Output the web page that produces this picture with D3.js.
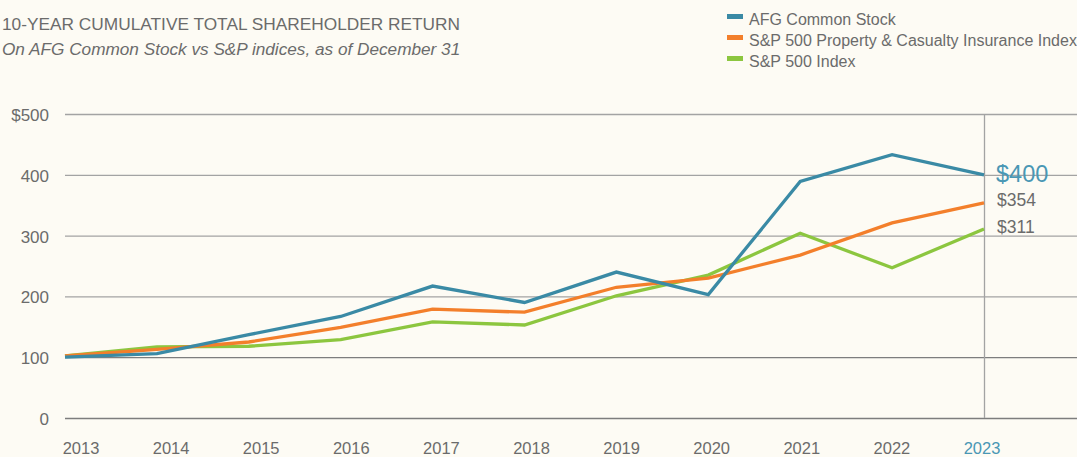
<!DOCTYPE html>
<html><head><meta charset="utf-8">
<script src="https://cdn.jsdelivr.net/npm/d3@7"></script>
<style>
body{margin:0;background:#fdfbf4;}
svg{display:block;font-family:"Liberation Sans",Arial,sans-serif;}
</style></head>
<body><svg id="c" width="1077" height="457"></svg>
<script>
const years = [2013,2014,2015,2016,2017,2018,2019,2020,2021,2022,2023];
const afg   = [100,106,137,167,217,190,240,203,389,433,400];
const pc    = [102,113,125,149,179,174,215,230,268,321,354];
const sp    = [102,117,118,129,158,153,201,235,304,247,311];
const yTicks = [0,100,200,300,400,500];
const seriesNames = ["AFG Common Stock","S&P 500 Property & Casualty Insurance Index","S&P 500 Index"];
const colors = ["#3a8aa5","#f37f2b","#8cc63f"];
const endLabels = ["$400","$354","$311"];

const svg = d3.select("#c");
svg.append("rect").attr("width",1077).attr("height",457).attr("fill","#fdfbf4");

const x = d3.scaleLinear().domain([2013,2023]).range([65,984]);
const xl = d3.scalePoint().domain(years).range([81,982]);
const y = d3.scaleLinear().domain([0,500]).range([418,114]);

const txt = "#6b6b6b";

// gridlines
svg.append("g").selectAll("line").data(yTicks).join("line")
  .attr("x1",65).attr("x2",1077)
  .attr("y1",d=>y(d)+0.5).attr("y2",d=>y(d)+0.5)
  .attr("stroke",d=>(d===0||d===100)?"#7d7d7d":"#a3a3a3").attr("stroke-width",1.3);
svg.append("g").selectAll("text").data(yTicks).join("text")
  .attr("x",49).attr("y",d=>y(d)+7).attr("text-anchor","end")
  .attr("font-size",17).attr("fill",txt)
  .text(d=>d===500?"$500":d);

// vertical line at 2023
svg.append("line").attr("x1",x(2023)+0.5).attr("x2",x(2023)+0.5)
  .attr("y1",y(500)).attr("y2",y(0)).attr("stroke","#a3a3a3").attr("stroke-width",1.3);

// x labels
svg.append("g").selectAll("text").data(years).join("text")
  .attr("x",d=>xl(d)).attr("y",453.5).attr("text-anchor","middle")
  .attr("font-size",16.5).attr("fill",d=>d===2023?"#4a97b4":txt)
  .text(d=>d);

// lines (draw order: green, orange, blue on top)
const data = [afg,pc,sp];
const line = d3.line().x((d,i)=>x(years[i])).y(d=>y(d));
[2,1,0].forEach(k=>{
  svg.append("path").datum(data[k]).attr("d",line)
    .attr("fill","none").attr("stroke",colors[k]).attr("stroke-width",3.3)
    .attr("stroke-linejoin","miter");
});

// end labels
svg.append("text").attr("x",996).attr("y",182).attr("font-size",23.5)
  .attr("fill","#4a97b4").text(endLabels[0]);
svg.append("text").attr("x",997).attr("y",206).attr("font-size",17.5)
  .attr("fill",txt).text(endLabels[1]);
svg.append("text").attr("x",997).attr("y",233).attr("font-size",17.5)
  .attr("fill",txt).text(endLabels[2]);

// title
svg.append("text").attr("x",2).attr("y",30).attr("font-size",17.3).attr("fill",txt)
  .text("10-YEAR CUMULATIVE TOTAL SHAREHOLDER RETURN");
svg.append("text").attr("x",2).attr("y",55).attr("font-size",17.2).attr("font-style","italic")
  .attr("fill",txt).text("On AFG Common Stock vs S&P indices, as of December 31");

// legend
const lg = svg.append("g").selectAll("g").data(seriesNames).join("g")
  .attr("transform",(d,i)=>`translate(727,${25+i*21})`);
lg.append("rect").attr("x",0).attr("y",-11).attr("width",16).attr("height",5)
  .attr("fill",(d,i)=>colors[i]);
lg.append("text").attr("x",22).attr("y",0).attr("font-size",16).attr("fill",txt).text(d=>d);
</script></body></html>
